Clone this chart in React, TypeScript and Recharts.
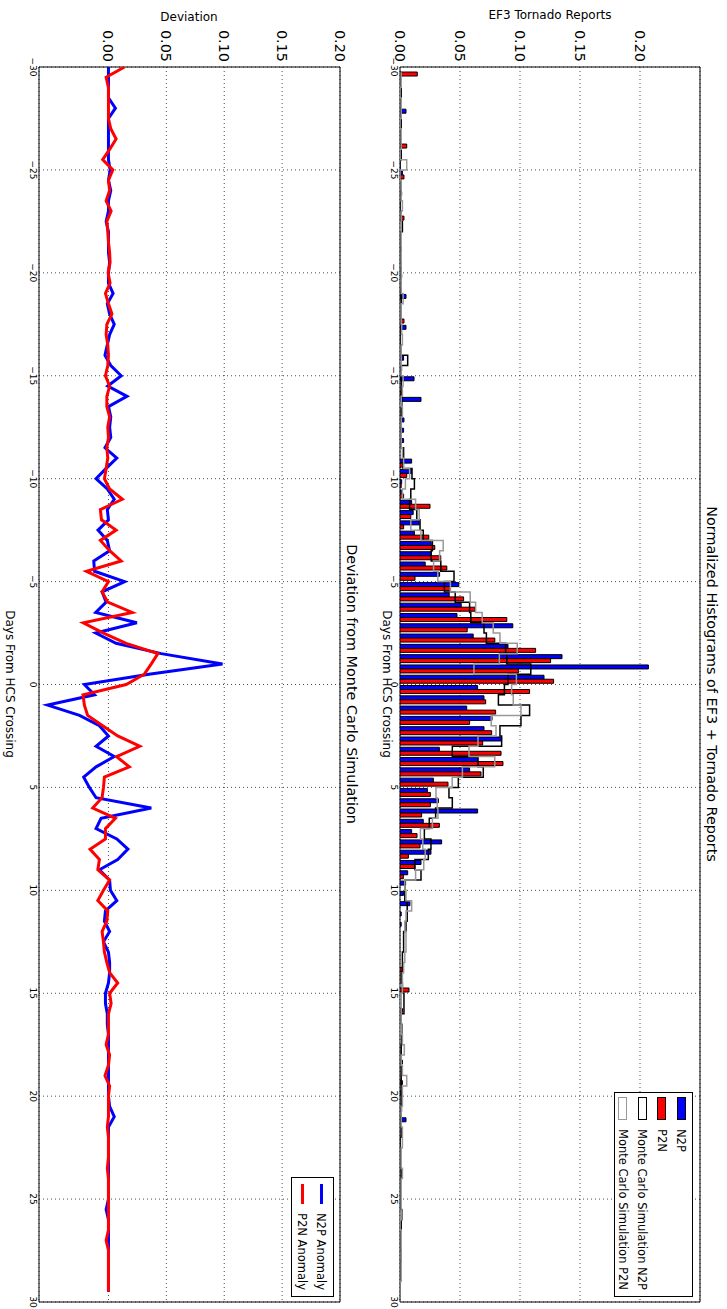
import React from 'react';
import {
  ComposedChart,
  LineChart,
  Bar,
  Line,
  XAxis,
  YAxis,
  CartesianGrid,
  ReferenceArea,
  Legend
} from 'recharts';

// half-day bins, -30 .. 29.5 (bin start)
const DAYS = Array.from({ length: 120 }, (_, i) => -30 + i * 0.5);

const DAY_TICKS = [-30, -25, -20, -15, -10, -5, 0, 5, 10, 15, 20, 25, 30];
const VALUE_TICKS = [0, 0.05, 0.1, 0.15, 0.2];

// normalized histogram of observed reports
const N2P = [
  0, 0, 0, 0, 0.005, 0, 0, 0, 0, 0,
  0.002, 0, 0.0014, 0, 0, 0, 0, 0, 0, 0,
  0.0014, 0, 0.005, 0, 0, 0.005, 0, 0, 0.003, 0.0014,
  0.0117, 0, 0.0175, 0, 0.0033, 0.003, 0.003, 0, 0.0097, 0.0097,
  0.0014, 0.0014, 0.0097, 0.011, 0.016, 0.012, 0.026, 0.026, 0.021, 0.033,
  0.049, 0.041, 0.051, 0.0475, 0.094, 0.061, 0.09, 0.135, 0.207, 0.12,
  0.0647, 0.07, 0.0556, 0.0767, 0.07, 0.0847, 0.0328, 0.0647, 0.058, 0.0278,
  0.0228, 0.032, 0.0647, 0.0194, 0.0097, 0.0347, 0.0258, 0.0175, 0.0064, 0.0047,
  0.003, 0.0083, 0.001, 0.001, 0, 0, 0, 0, 0, 0,
  0, 0, 0, 0, 0, 0, 0, 0, 0, 0,
  0, 0.0014, 0.005, 0, 0, 0, 0, 0, 0, 0,
  0, 0, 0, 0, 0, 0, 0, 0, 0, 0
];

const P2N = [
  0.0144, 0, 0, 0, 0, 0, 0, 0.0056, 0, 0,
  0.0033, 0, 0, 0, 0.0033, 0, 0, 0.001, 0, 0.001,
  0, 0.001, 0, 0, 0.0033, 0, 0, 0, 0, 0,
  0, 0.002, 0, 0, 0, 0, 0.001, 0, 0.003, 0.0056,
  0.001, 0.003, 0.025, 0.009, 0.003, 0.024, 0.029, 0.034, 0.039, 0.0125,
  0.042, 0.053, 0.0625, 0.089, 0.056, 0.079, 0.113, 0.1255, 0.0986, 0.128,
  0.108, 0.0714, 0.0797, 0.058, 0.0764, 0.0689, 0.0842, 0.0858, 0.0675, 0.04,
  0.0253, 0.0253, 0.018, 0.0328, 0.0142, 0.0167, 0.007, 0.012, 0.0028, 0,
  0, 0, 0, 0, 0, 0, 0, 0.002, 0, 0.0075,
  0, 0.002, 0, 0, 0, 0, 0.002, 0, 0.002, 0.002,
  0, 0, 0, 0, 0, 0, 0, 0, 0, 0,
  0, 0, 0, 0, 0, 0, 0, 0, 0, 0
];

// Monte Carlo simulation (step outlines)
const MC_N2P = [
  0, 0, 0.001, 0, 0, 0.001, 0, 0, 0.001, 0,
  0, 0.001, 0, 0, 0.001, 0.002, 0, 0, 0, 0.001,
  0.001, 0, 0.001, 0.001, 0.001, 0, 0, 0.001, 0.0064, 0.001,
  0.001, 0.001, 0.0015, 0.001, 0.001, 0.001, 0.001, 0.003, 0.0025, 0.01,
  0.012, 0.009, 0.008, 0.014, 0.0167, 0.0194, 0.027, 0.026, 0.034, 0.045,
  0.037, 0.046, 0.058, 0.059, 0.07, 0.072, 0.088, 0.089, 0.109, 0.09,
  0.087, 0.082, 0.108, 0.1008, 0.0833, 0.0847, 0.0436, 0.065, 0.0694, 0.0486,
  0.0408, 0.0436, 0.0297, 0.0244, 0.0203, 0.0258, 0.0236, 0.0125, 0.0175, 0.004,
  0.004, 0.006, 0.006, 0.005, 0.003, 0.003, 0.002, 0.002, 0.001, 0.002,
  0.0033, 0.0033, 0.001, 0.0015, 0.0015, 0.001, 0.001, 0.001, 0.001, 0.001,
  0.001, 0.001, 0, 0.001, 0, 0, 0, 0.001, 0, 0,
  0, 0.0015, 0.001, 0, 0, 0.001, 0, 0, 0, 0
];

const MC_P2N = [
  0.001, 0.001, 0, 0.001, 0.001, 0, 0.001, 0.001, 0, 0.0056,
  0, 0.001, 0.001, 0.002, 0.001, 0.001, 0.001, 0.001, 0.001, 0.001,
  0.001, 0.001, 0.0026, 0.001, 0.001, 0.0014, 0.002, 0.001, 0.001, 0.001,
  0.0026, 0.002, 0.001, 0.002, 0.001, 0.001, 0.001, 0.002, 0.003, 0.008,
  0.0045, 0.002, 0.013, 0.016, 0.009, 0.0174, 0.036, 0.033, 0.028, 0.0315,
  0.042, 0.0585, 0.063, 0.0685, 0.0777, 0.0833, 0.0977, 0.0828, 0.0616, 0.097,
  0.093, 0.0944, 0.1008, 0.076, 0.08, 0.065, 0.0575, 0.079, 0.052, 0.0435,
  0.03, 0.031, 0.0316, 0.027, 0.017, 0.019, 0.021, 0.0198, 0.013, 0.004,
  0.005, 0.0097, 0.005, 0.004, 0.005, 0.005, 0.004, 0.003, 0.002, 0.002,
  0.001, 0.001, 0.001, 0.001, 0.002, 0.0036, 0.001, 0.002, 0.0056, 0.002,
  0.002, 0.001, 0.001, 0.002, 0.002, 0.001, 0.001, 0.002, 0.001, 0.001,
  0.001, 0.001, 0, 0.001, 0.001, 0.001, 0.001, 0.001, 0, 0
];

// deviation from the simulation
const N2P_ANOMALY = [
  0, 0, 0, 0, 0.006, 0, 0, 0, 0, 0,
  0.0015, 0, 0.002, 0, 0, -0.002, 0, 0, 0, 0.001,
  0, 0, 0.004, -0.001, 0.001, 0.005, 0.001, -0.001, -0.003, 0.002,
  0.011, -0.0006, 0.016, 0, 0.002, 0.001, 0.002, -0.003, 0.0072, -0.002,
  -0.0107, -0.001, 0.005, -0.001, 0, -0.009, -0.001, 0.001, -0.0127, -0.012,
  0.014, -0.0055, -0.002, -0.011, 0.0245, -0.011, 0.0066, 0.0456, 0.0985, 0.035,
  -0.0208, -0.012, -0.0526, -0.025, -0.0078, 0, -0.0107, 0.005, -0.0107, -0.0214,
  -0.0165, -0.0107, 0.037, -0.0064, -0.0107, 0.0072, 0.0168, 0.008, -0.0078, 0.001,
  0.0017, 0.0072, -0.0026, -0.0035, 0.001, -0.0043, 0, 0.001, 0.001, 0,
  -0.0026, -0.0026, -0.001, -0.001, 0, 0, 0, 0, 0, 0,
  0, 0.001, 0.005, 0, 0, 0, 0, 0, 0, 0,
  0, -0.002, 0, 0, 0, 0, 0, 0, 0, 0
];

const P2N_ANOMALY = [
  0.0139, -0.002, 0, 0, 0, 0, 0.002, 0.0066, 0.001, -0.005,
  0.0038, 0, 0.001, -0.002, 0.0023, -0.0014, -0.0006, 0, 0.001, 0.0014,
  -0.0003, 0.0014, -0.0026, 0, 0.003, -0.0014, -0.002, -0.0006, 0, -0.0006,
  -0.0026, 0.001, -0.0014, -0.0014, 0.001, -0.0006, 0, -0.0014, -0.0006, -0.002,
  -0.0035, 0.001, 0.012, -0.007, -0.006, 0.0066, -0.007, 0.001, 0.011, -0.019,
  0, -0.0055, -0.0006, 0.0205, -0.0217, -0.0043, 0.0153, 0.0427, 0.037, 0.031,
  0.0153, -0.022, -0.0208, -0.018, -0.005, 0.008, 0.027, 0.007, 0.018, -0.0035,
  -0.0043, -0.0055, -0.0136, 0.006, -0.0026, -0.0026, -0.0159, -0.0078, -0.0092, 0.001,
  -0.0043, -0.0092, -0.0006, -0.0014, -0.0055, -0.0043, -0.0035, -0.0014, 0.001, 0.008,
  0.001, 0.0023, 0, 0, 0, -0.002, 0.001, 0, -0.003, 0.001,
  0, 0, 0, -0.001, 0, 0, 0, -0.001, 0, 0,
  0, 0, 0, 0, -0.002, 0, 0, 0, 0, 0
];

const histData = DAYS.map((d, i) => ({
  x: d + 0.25,
  n2p: N2P[i],
  p2n: P2N[i],
  mcN2p: MC_N2P[i],
  mcP2n: MC_P2N[i]
}));

const devData = DAYS.map((d, i) => ({
  x: d,
  n2p: N2P_ANOMALY[i],
  p2n: P2N_ANOMALY[i]
}));

const FONT = '"DejaVu Sans", sans-serif';
const dayFmt = (v: number) => (v < 0 ? '\u2212' + Math.abs(v) : String(v));

const HistLegend = () => {
  const items = [
    { name: 'N2P', fill: '#0000ff', stroke: '#000' },
    { name: 'P2N', fill: '#ff0000', stroke: '#000' },
    { name: 'Monte Carlo Simulation N2P', fill: '#fff', stroke: '#000' },
    { name: 'Monte Carlo Simulation P2N', fill: '#fff', stroke: '#999' }
  ];
  return (
    <div style={{ border: '1px solid #000', background: '#fff', boxSizing: 'border-box', height: 79, paddingTop: 1 }}>
      {items.map((it) => (
        <div key={it.name} style={{ display: 'flex', alignItems: 'center', height: 19.5 }}>
          <span
            style={{
              marginLeft: 4,
              width: 23,
              height: 9,
              boxSizing: 'border-box',
              background: it.fill,
              border: `1.5px solid ${it.stroke}`
            }}
          />
          <span style={{ marginLeft: 9, fontSize: 11.5, color: '#000', whiteSpace: 'nowrap' }}>{it.name}</span>
        </div>
      ))}
    </div>
  );
};

const DevLegend = () => {
  const items = [
    { name: 'N2P Anomaly', color: '#0000ff' },
    { name: 'P2N Anomaly', color: '#ff0000' }
  ];
  return (
    <div style={{ border: '1px solid #000', background: '#fff', boxSizing: 'border-box', height: 43, paddingTop: 2 }}>
      {items.map((it) => (
        <div key={it.name} style={{ display: 'flex', alignItems: 'center', height: 19 }}>
          <span style={{ marginLeft: 6, width: 20, height: 3, background: it.color }} />
          <span style={{ marginLeft: 9, fontSize: 11.5, color: '#000', whiteSpace: 'nowrap' }}>{it.name}</span>
        </div>
      ))}
    </div>
  );
};

const text = (x: number, y: number, size: number, rotate = 0): React.CSSProperties => ({
  position: 'absolute',
  left: x,
  top: y,
  fontSize: size,
  color: '#000',
  whiteSpace: 'nowrap',
  transform: `translate(-50%, -50%) rotate(${rotate}deg)`
});

export default function App() {
  return (
    <div
      style={{
        position: 'absolute',
        left: 0,
        top: 0,
        width: 1309,
        height: 727,
        background: '#fff',
        fontFamily: FONT,
        transformOrigin: '0 0',
        transform: 'translateX(727px) rotate(90deg)'
      }}
    >
      <div style={text(684, 15, 14.4)}>Normalized Histograms of EF3 + Tornado Reports</div>
      <div style={text(15, 177, 12, -90)}>EF3 Tornado Reports</div>
      <div style={text(684, 340, 12)}>Days From HCS Crossing</div>
      <div style={text(684, 375, 14.4)}>Deviation from Monte Carlo Simulation</div>
      <div style={text(17, 538, 12, -90)}>Deviation</div>
      <div style={text(684, 717, 12)}>Days From HCS Crossing</div>

      <div style={{ position: 'absolute', left: 0, top: 0 }}>
        <ComposedChart
          width={1309}
          height={360}
          data={histData}
          margin={{ top: 27, right: 7, left: 0, bottom: 3 }}
          barCategoryGap="10%"
          barGap={0}
        >
          <CartesianGrid stroke="#000" strokeOpacity={0.7} strokeDasharray="1 3" />
          <XAxis
            dataKey="x"
            type="number"
            domain={[-30, 30]}
            ticks={DAY_TICKS}
            interval={0}
            allowDataOverflow
            height={30}
            axisLine={false}
            tickLine={false}
            tickSize={0}
            tickMargin={3}
            tickFormatter={dayFmt}
            tick={{ fill: '#000', fontSize: 9, fontFamily: FONT }}
          />
          <YAxis
            type="number"
            domain={[0, 0.25]}
            ticks={VALUE_TICKS}
            interval={0}
            allowDataOverflow
            width={67}
            axisLine={false}
            tickLine={false}
            tickSize={0}
            tickMargin={5}
            tickFormatter={(v: number) => v.toFixed(2)}
            tick={{ fill: '#000', fontSize: 14.4, fontFamily: FONT }}
          />
          <Bar dataKey="n2p" name="N2P" fill="#0000ff" stroke="#000" strokeWidth={1} isAnimationActive={false} />
          <Bar dataKey="p2n" name="P2N" fill="#ff0000" stroke="#000" strokeWidth={1} isAnimationActive={false} />
          <Line
            type="step"
            dataKey="mcN2p"
            name="Monte Carlo Simulation N2P"
            stroke="#000"
            strokeWidth={1.5}
            dot={false}
            isAnimationActive={false}
          />
          <Line
            type="step"
            dataKey="mcP2n"
            name="Monte Carlo Simulation P2N"
            stroke="#999"
            strokeWidth={1.5}
            dot={false}
            isAnimationActive={false}
          />
          <ReferenceArea x1={-30} x2={30} y1={0} y2={0.25} fill="none" stroke="#000" strokeWidth={1} ifOverflow="visible" />
          <Legend
            layout="vertical"
            align="center"
            verticalAlign="middle"
            content={() => <HistLegend />}
            wrapperStyle={{ left: 1092, top: 34, width: 205 }}
          />
        </ComposedChart>
      </div>

      <div style={{ position: 'absolute', left: 0, top: 360 }}>
        <LineChart
          width={1309}
          height={367}
          data={devData}
          margin={{ top: 27, right: 7, left: 0, bottom: 3 }}
        >
          <CartesianGrid stroke="#000" strokeOpacity={0.7} strokeDasharray="1 3" />
          <XAxis
            dataKey="x"
            type="number"
            domain={[-30, 30]}
            ticks={DAY_TICKS}
            interval={0}
            allowDataOverflow
            height={36}
            axisLine={false}
            tickLine={false}
            tickSize={0}
            tickMargin={3}
            tickFormatter={dayFmt}
            tick={{ fill: '#000', fontSize: 9, fontFamily: FONT }}
          />
          <YAxis
            type="number"
            domain={[-0.06, 0.2]}
            ticks={VALUE_TICKS}
            interval={0}
            allowDataOverflow
            width={67}
            axisLine={false}
            tickLine={false}
            tickSize={0}
            tickMargin={5}
            tickFormatter={(v: number) => v.toFixed(2)}
            tick={{ fill: '#000', fontSize: 14.4, fontFamily: FONT }}
          />
          <Line
            type="linear"
            dataKey="n2p"
            name="N2P Anomaly"
            stroke="#0000ff"
            strokeWidth={3}
            dot={false}
            isAnimationActive={false}
          />
          <Line
            type="linear"
            dataKey="p2n"
            name="P2N Anomaly"
            stroke="#ff0000"
            strokeWidth={3}
            dot={false}
            isAnimationActive={false}
          />
          <ReferenceArea x1={-30} x2={30} y1={-0.06} y2={0.2} fill="none" stroke="#000" strokeWidth={1} ifOverflow="visible" />
          <Legend
            layout="vertical"
            align="center"
            verticalAlign="middle"
            content={() => <DevLegend />}
            wrapperStyle={{ left: 1177, top: 33, width: 120 }}
          />
        </LineChart>
      </div>
    </div>
  );
}
